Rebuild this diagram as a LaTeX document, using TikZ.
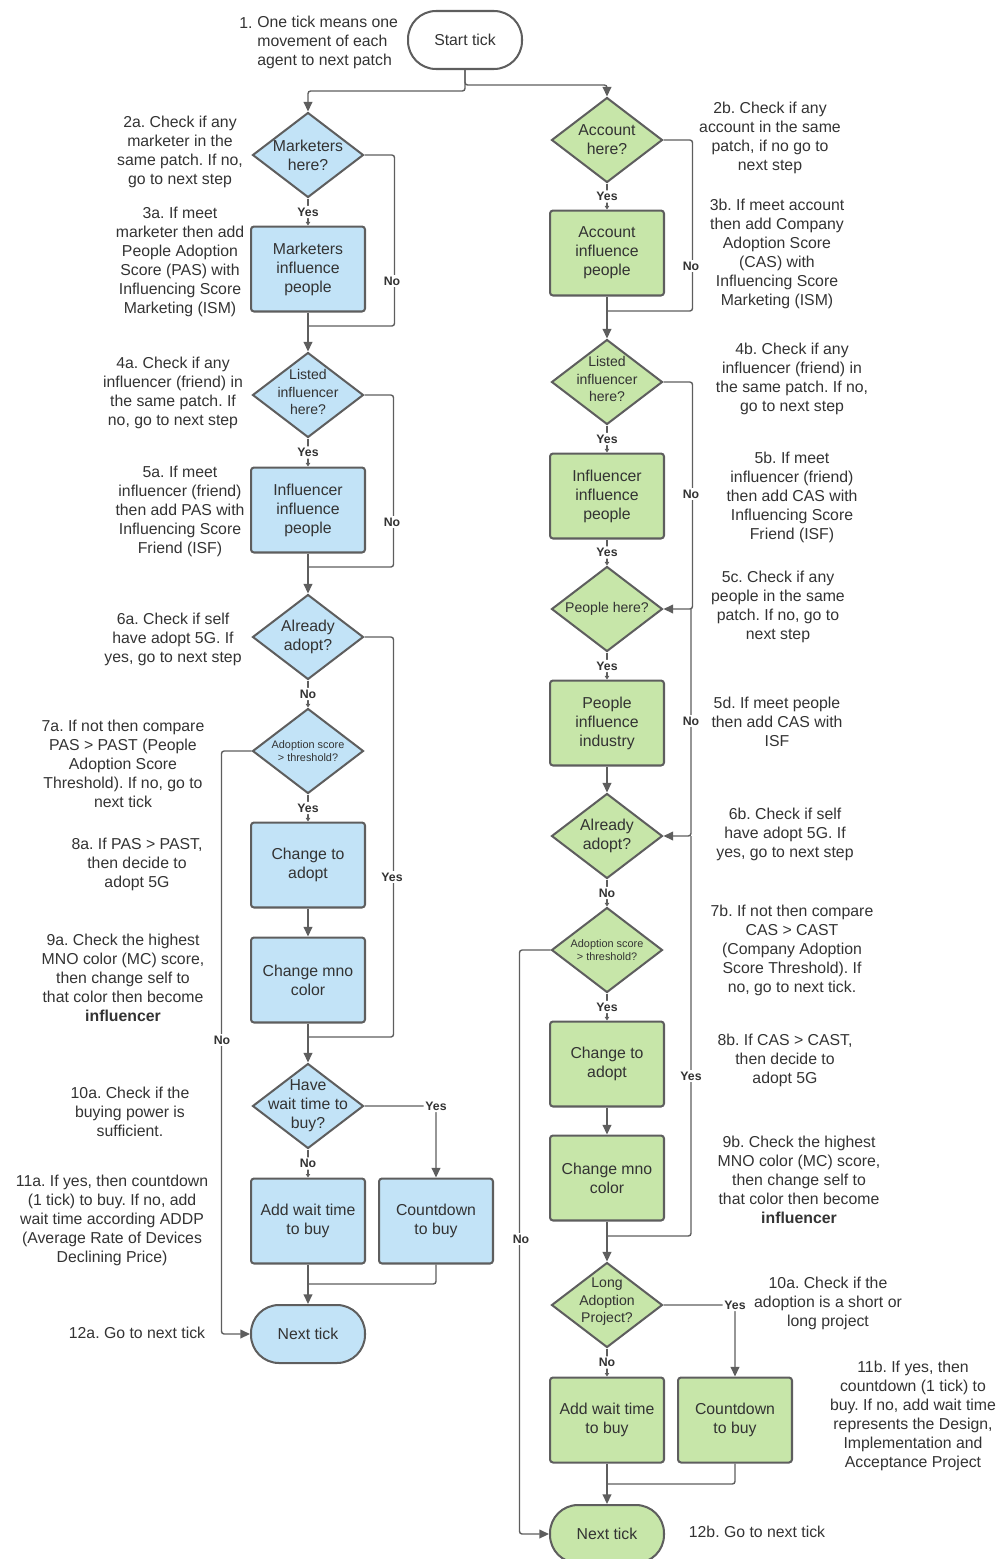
\documentclass[tikz,border=0pt]{standalone}
\usepackage{fontspec}
\setmainfont{Liberation Sans}
\usetikzlibrary{shapes.geometric,arrows.meta}
\definecolor{linegray}{HTML}{5E5E5E}
\definecolor{txtgray}{HTML}{333333}
\definecolor{bluefill}{HTML}{C2E3F7}
\definecolor{greenfill}{HTML}{C7E6A9}
\frenchspacing
\begin{document}
\begin{tikzpicture}[x=0.02cm,y=-0.02cm,
        every node/.style={text=txtgray,font=\fontsize{9}{10.8}\selectfont},
        note/.style={align=center,inner sep=0pt},
        box/.style={draw=linegray,line width=1.15pt,rounded corners=1.7pt,minimum width=2.28cm,minimum height=1.7cm,align=center,inner sep=1pt},
        bluebox/.style={box,fill=bluefill},
        greenbox/.style={box,fill=greenfill},
        term/.style={draw=linegray,line width=1.15pt,rounded corners=0.56cm,minimum width=2.28cm,minimum height=1.16cm,align=center},
        dec/.style={diamond,draw=linegray,line width=1.15pt,minimum width=2.22cm,minimum height=1.7cm,inner sep=0pt},
        dectext/.style={align=center,inner sep=0pt},
        smalltext/.style={dectext,font=\fontsize{8}{10}\selectfont},
        tinytext/.style={dectext,font=\fontsize{6.2}{7.4}\selectfont},
        lbl/.style={fill=white,inner sep=1pt,font=\bfseries\fontsize{7}{7.5}\selectfont},
        wire/.style={draw=linegray,line width=0.8pt,rounded corners=1.5pt},
        flow/.style={wire,-{Triangle[length=5.5pt,width=5pt]}},
        tick/.style={wire,-{Triangle[length=2pt,width=2.5pt]}}]
    \useasboundingbox (0,0) rectangle (1006,1559);
    \clip (0,0) rectangle (1006,1559);

    \node[term] (start) at (465,40) {Start tick};

    % left column
    \node[dec,fill=bluefill] (mkq) at (308,155) {};
    \node[dectext] (mkq-t) at (mkq) {Marketers\\here?};
    \node[bluebox] (mkbox) at (308,269) {Marketers\\influence\\people};
    \node[dec,fill=bluefill] (lsq) at (308,395) {};
    \node[smalltext] (lsq-t) at ([yshift=0.06cm]lsq) {Listed\\influencer\\here?};
    \node[bluebox] (lsbox) at (308,510) {Influencer\\influence\\people};
    \node[dec,fill=bluefill] (adq) at (308,637) {};
    \node[dectext] (adq-t) at (adq) {Already\\adopt?};
    \node[dec,fill=bluefill] (thq) at (308,751) {};
    \node[tinytext] (thq-t) at (thq) {Adoption score\\> threshold?};
    \node[bluebox] (chbox) at (308,865) {Change to\\adopt};
    \node[bluebox] (mnobox) at (308,980) {Change mno\\color};
    \node[dec,fill=bluefill] (wtq) at (308,1106) {};
    \node[dectext] (wtq-t) at (wtq) {Have\\wait time to\\buy?};
    \node[bluebox] (addbox) at (308,1221) {Add wait time\\to buy};
    \node[bluebox] (cdbox) at (436,1221) {Countdown\\to buy};
    \node[term,fill=bluefill] (nexta) at (308,1334) {Next tick};

    % right column
    \node[dec,fill=greenfill] (acq) at (607,140) {};
    \node[dectext] (acq-t) at (acq) {Account\\here?};
    \node[greenbox] (acbox) at (607,253) {Account\\influence\\people};
    \node[dec,fill=greenfill] (lsq2) at (607,382) {};
    \node[smalltext] (lsq2-t) at ([yshift=0.06cm]lsq2) {Listed\\influencer\\here?};
    \node[greenbox] (lsbox2) at (607,496) {Influencer\\influence\\people};
    \node[dec,fill=greenfill] (peq) at (607,609) {};
    \node[smalltext] (peq-t) at (peq) {People here?};
    \node[greenbox] (pebox) at (607,723) {People\\influence\\industry};
    \node[dec,fill=greenfill] (adq2) at (607,836) {};
    \node[dectext] (adq2-t) at (adq2) {Already\\adopt?};
    \node[dec,fill=greenfill] (thq2) at (607,950) {};
    \node[tinytext] (thq2-t) at (thq2) {Adoption score\\> threshold?};
    \node[greenbox] (chbox2) at (607,1064) {Change to\\adopt};
    \node[greenbox] (mnobox2) at (607,1178) {Change mno\\color};
    \node[dec,fill=greenfill] (lgq) at (607,1305) {};
    \node[smalltext] (lgq-t) at ([yshift=0.06cm]lgq) {Long\\Adoption\\Project?};
    \node[greenbox] (addbox2) at (607,1420) {Add wait time\\to buy};
    \node[greenbox] (cdbox2) at (735,1420) {Countdown\\to buy};
    \node[term,fill=greenfill] (nextb) at (607,1534) {Next tick};

    \coordinate (j1) at (308,326);
    \coordinate (j2) at (308,567);
    \coordinate (j3) at (308,1037);
    \coordinate (j4) at (308,1284);
    \coordinate (k1) at (607,311);
    \coordinate (k2) at (691,609);
    \coordinate (k3) at (691,836);
    \coordinate (k4) at (607,1236);
    \coordinate (k5) at (607,1484);

    % connectors, left
    \draw[flow] (start.south) -- ++(0,21) -| (mkq.north);
    \draw[flow] (start.south) -- ++(0,15) -| (acq.north);
    \draw[tick] (mkq.south) -- node[lbl]{Yes} (mkbox.north);
    \draw[wire] (mkq.east) -- ++(30,0) |- (j1);
    \node[lbl] at (392,281) {No};
    \draw[flow] (mkbox.south) -- (lsq.north);
    \draw[tick] (lsq.south) -- node[lbl]{Yes} (lsbox.north);
    \draw[wire] (lsq.east) -- ++(29,0) |- (j2);
    \node[lbl] at (392,522) {No};
    \draw[flow] (lsbox.south) -- (adq.north);
    \draw[tick] (adq.south) -- node[lbl]{No} (thq.north);
    \draw[wire] (adq.east) -- ++(29,0) |- (j3);
    \node[lbl] at (392,877) {Yes};
    \draw[flow] (thq.west) -- ++(-30,0) |- (nexta.west);
    \node[lbl] at (222,1040) {No};
    \draw[tick] (thq.south) -- node[lbl]{Yes} (chbox.north);
    \draw[flow] (chbox.south) -- (mnobox.north);
    \draw[flow] (mnobox.south) -- (wtq.north);
    \draw[flow] (wtq.east) -| node[lbl,pos=0.5]{Yes} (cdbox.north);
    \draw[tick] (wtq.south) -- node[lbl]{No} (addbox.north);
    \draw[wire] (cdbox.south) |- (j4);
    \draw[flow] (addbox.south) -- (nexta.north);

    % connectors, right
    \draw[tick] (acq.south) -- node[lbl]{Yes} (acbox.north);
    \draw[wire] (acq.east) -- ++(29,0) |- (k1);
    \node[lbl] at (691,266) {No};
    \draw[flow] (acbox.south) -- (lsq2.north);
    \draw[tick] (lsq2.south) -- node[lbl]{Yes} (lsbox2.north);
    \draw[flow] (lsq2.east) -- ++(29,0) |- (peq.east);
    \node[lbl] at (691,494) {No};
    \draw[tick] (lsbox2.south) -- node[lbl]{Yes} (peq.north);
    \draw[flow] (k2) |- (adq2.east);
    \node[lbl] at (691,721) {No};
    \draw[tick] (peq.south) -- node[lbl]{Yes} (pebox.north);
    \draw[flow] (pebox.south) -- (adq2.north);
    \draw[tick] (adq2.south) -- node[lbl]{No} (thq2.north);
    \draw[wire] (k3) |- (k4);
    \node[lbl] at (691,1076) {Yes};
    \draw[flow] (thq2.west) -- ++(-31,0) |- (nextb.west);
    \node[lbl] at (521,1239) {No};
    \draw[tick] (thq2.south) -- node[lbl]{Yes} (chbox2.north);
    \draw[flow] (chbox2.south) -- (mnobox2.north);
    \draw[flow] (mnobox2.south) -- (lgq.north);
    \draw[flow] (lgq.east) -| node[lbl,pos=0.5]{Yes} (cdbox2.north);
    \draw[tick] (lgq.south) -- node[lbl]{No} (addbox2.north);
    \draw[wire] (cdbox2.south) |- (k5);
    \draw[flow] (addbox2.south) -- (nextb.north);

    % notes, left
    \node[note] (n1num) at (246,23) {1.};
    \node[note,align=left,anchor=west] (n1) at (257,42) {One tick means one\\movement of each\\agent to next patch};
    \node[note] (n2a) at (180,152) {2a. Check if any\\marketer in the\\same patch. If no,\\go to next step};
    \node[note] (n3a) at (180,262) {3a. If meet\\marketer then add\\People Adoption\\Score (PAS) with\\Influencing Score\\Marketing (ISM)};
    \node[note] (n4a) at (173,393) {4a. Check if any\\influencer (friend) in\\the same patch. If\\no, go to next step};
    \node[note] (n5a) at (180,511) {5a. If meet\\influencer (friend)\\then add PAS with\\Influencing Score\\Friend (ISF)};
    \node[note] (n6a) at (173,639) {6a. Check if self\\have adopt 5G. If\\yes, go to next step};
    \node[note] (n7a) at (123,764) {7a. If not then compare\\PAS > PAST (People\\Adoption Score\\Threshold). If no, go to\\next tick};
    \node[note] (n8a) at (137,864) {8a. If PAS > PAST,\\then decide to\\adopt 5G};
    \node[note] (n9a) at (123,978) {9a. Check the highest\\MNO color (MC) score,\\then change self to\\that color then become\\\textbf{influencer}};
    \node[note] (n10a) at (130,1112) {10a. Check if the\\buying power is\\sufficient.};
    \node[note] (n11a) at (112,1220) {11a. If yes, then countdown\\(1 tick) to buy. If no, add\\wait time according ADDP\\(Average Rate of Devices\\Declining Price)};
    \node[note] (n12a) at (137,1333) {12a. Go to next tick};

    % notes, right
    \node[note] (n2b) at (770,138) {2b. Check if any\\account in the same\\patch, if no go to\\next step};
    \node[note] (n3b) at (777,254) {3b. If meet account\\then add Company\\Adoption Score\\(CAS) with\\Influencing Score\\Marketing (ISM)};
    \node[note] (n4b) at (792,379) {4b. Check if any\\influencer (friend) in\\the same patch. If no,\\go to next step};
    \node[note] (n5b) at (792,497) {5b. If meet\\influencer (friend)\\then add CAS with\\Influencing Score\\Friend (ISF)};
    \node[note] (n5c) at (778,607) {5c. Check if any\\people in the same\\patch. If no, go to\\next step};
    \node[note] (n5d) at (777,722) {5d. If meet people\\then add CAS with\\ISF};
    \node[note] (n6b) at (785,834) {6b. Check if self\\have adopt 5G. If\\yes, go to next step};
    \node[note] (n7b) at (792,950) {7b. If not then compare\\CAS > CAST\\(Company Adoption\\Score Threshold). If\\no, go to next tick.};
    \node[note] (n8b) at (785,1060) {8b. If CAS > CAST,\\then decide to\\adopt 5G};
    \node[note] (n9b) at (799,1180) {9b. Check the highest\\MNO color (MC) score,\\then change self to\\that color then become\\\textbf{influencer}};
    \node[note] (n10b) at (828,1303) {10a. Check if the\\adoption is a short or\\long project};
    \node[note] (n11b) at (913,1416) {11b. If yes, then\\countdown (1 tick) to\\buy. If no, add wait time\\represents the Design,\\Implementation and\\Acceptance Project};
    \node[note] (n12b) at (757,1532) {12b. Go to next tick};
\end{tikzpicture}
\end{document}
